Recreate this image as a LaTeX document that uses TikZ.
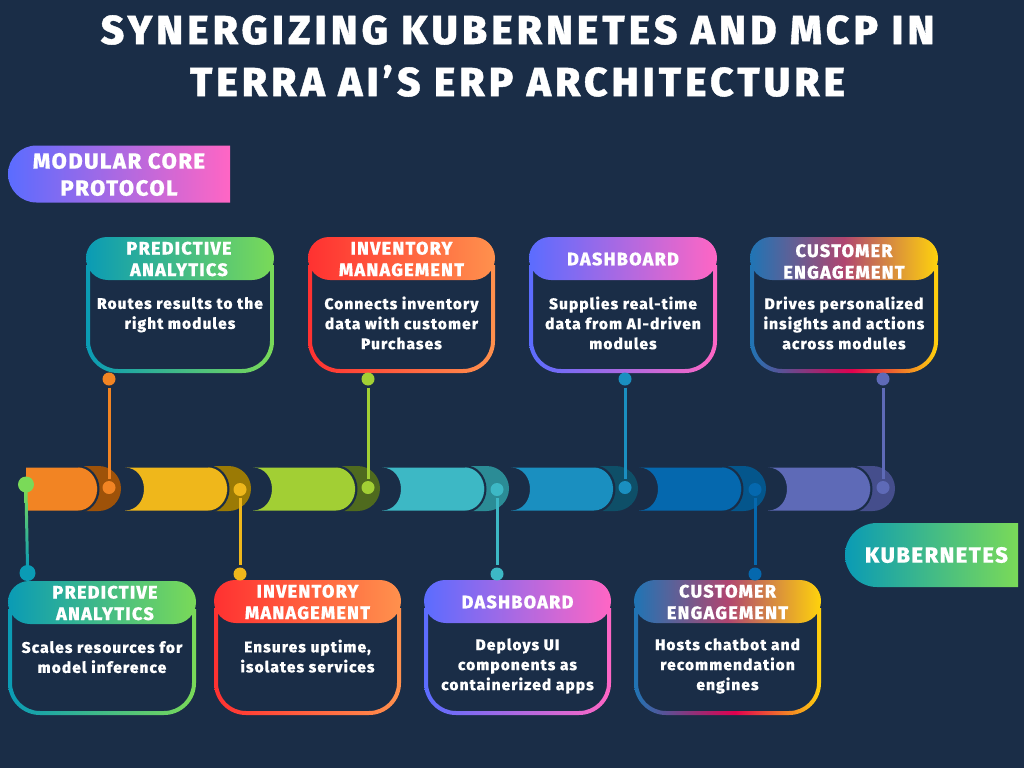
\documentclass[tikz,border=0pt]{standalone}
\usepackage{fontspec}
\setmainfont{Fira Sans}[LetterSpace=7,BoldFont={Fira Sans ExtraBold},BoldFeatures={FakeBold=0.25}]
\newfontfamily\titlefont{Fira Sans}[LetterSpace=10.5,UprightFont={* ExtraBold},FakeBold=1]
\usetikzlibrary{calc}
\definecolor{bg}{HTML}{1A2D47}
\definecolor{tA}{HTML}{0A9BB5}\definecolor{tB}{HTML}{7ADA58}
\definecolor{rA}{HTML}{FF3131}\definecolor{rB}{HTML}{FF914D}
\definecolor{bA}{HTML}{5B6CFF}\definecolor{bB}{HTML}{FF66C4}
\definecolor{cA}{HTML}{1F75B5}\definecolor{cB}{HTML}{E0004F}\definecolor{cC}{HTML}{FFD30C}\definecolor{cM}{HTML}{B04570}
\definecolor{dA}{HTML}{F28423}\definecolor{dB}{HTML}{EFB71B}\definecolor{dC}{HTML}{A2CF34}
\definecolor{dD}{HTML}{3DB8C5}\definecolor{dE}{HTML}{1A8FC0}\definecolor{dF}{HTML}{0568AE}\definecolor{dG}{HTML}{5E6AB7}
\definecolor{eA}{HTML}{9E5209}\definecolor{eB}{HTML}{9B7A05}\definecolor{eC}{HTML}{4F6A1E}
\definecolor{eD}{HTML}{2B8C96}\definecolor{eE}{HTML}{0E4F68}\definecolor{eF}{HTML}{04568C}\definecolor{eG}{HTML}{454E8C}
\pgfdeclarehorizontalshading{gradT}{100bp}{color(0bp)=(tA);color(25bp)=(tA);color(75bp)=(tB);color(100bp)=(tB)}
\pgfdeclarehorizontalshading{gradR}{100bp}{color(0bp)=(rA);color(25bp)=(rA);color(75bp)=(rB);color(100bp)=(rB)}
\pgfdeclarehorizontalshading{gradB}{100bp}{color(0bp)=(bA);color(25bp)=(bA);color(75bp)=(bB);color(100bp)=(bB)}
\pgfdeclarehorizontalshading{gradC}{100bp}{color(0bp)=(cA);color(25bp)=(cA);color(52bp)=(cB);color(75bp)=(cC);color(100bp)=(cC)}
\pgfdeclarehorizontalshading{gradTh}{100bp}{color(0bp)=(tA);color(25bp)=(tA);color(75bp)=(tB);color(100bp)=(tB)}
\pgfdeclarehorizontalshading{gradRh}{100bp}{color(0bp)=(rA);color(25bp)=(rA);color(75bp)=(rB);color(100bp)=(rB)}
\pgfdeclarehorizontalshading{gradBh}{100bp}{color(0bp)=(bA);color(25bp)=(bA);color(75bp)=(bB);color(100bp)=(bB)}
\pgfdeclarehorizontalshading{gradCh}{100bp}{color(0bp)=(cA);color(25bp)=(cA);color(50bp)=(cM);color(75bp)=(cC);color(100bp)=(cC)}
\tikzset{
  x=1pt,y=-1pt,
  head/.style={font=\bfseries\fontsize{18}{21.5}\selectfont,text=white,align=center,inner sep=0pt},
  body/.style={font=\bfseries\fontsize{15.5}{20}\selectfont,text=white,align=center,inner sep=0pt},
  dot/.style={circle,minimum size=13pt,inner sep=0pt,fill=#1},
  bigdot/.style={circle,minimum size=16pt,inner sep=0pt,fill=#1},
  link/.style={line width=3pt,draw=#1,shorten >=2pt,shorten <=2pt},
  tag/.style={font=\bfseries\fontsize{22}{27}\selectfont,text=white,align=center,inner sep=0pt},
}
% #1 left #2 right #3 header bottom #4 frame bottom #5 shading #6 name #7 head #8 body #9 head shift
\newcommand{\cardbox}[9]{%
  \shade[shading=#5,even odd rule]
    (#1,#3-15) -- (#1,#4-32) arc[start angle=180,end angle=90,radius=32] -- (#2-32,#4) arc[start angle=90,end angle=0,radius=32] -- (#2,#3-15) -- cycle
    (#1+4,#3-15) -- (#1+4,#4-32) arc[start angle=180,end angle=90,radius=28] -- (#2-32,#4-4) arc[start angle=90,end angle=0,radius=28] -- (#2-4,#3-15) -- cycle;
  \shade[shading=#5h]
    (#1,#3-22) arc[start angle=180,end angle=270,radius=21] -- ({#2-21},#3-43) arc[start angle=270,end angle=360,radius=21]
    arc[start angle=0,end angle=90,x radius=22,y radius=22] -- (#1+22,#3) arc[start angle=90,end angle=180,x radius=22,y radius=22] -- cycle;
  \node[head,#9] (#6h) at ({(#1+#2)/2},#3-21) {#7};
  \node[body] (#6b) at ({(#1+#2)/2},#3+43) {#8};
}
% #1 R body #2 R cap #3 body colour #4 cap colour
\newcommand{\barrel}[4]{%
  \fill[#4] ({#1-19},466) -- ({#2-22.5},466) arc[start angle=-90,end angle=90,radius=22.5] -- ({#1-19},511) -- cycle;
  \fill[#3] ({#1-102},467.5) -- ({#1-19},467.5) arc[start angle=-90,end angle=90,x radius=19,y radius=21.5] -- ({#1-102},510.5)
     .. controls ({#1-90},510.5) and ({#1-83},500) .. ({#1-83},489) .. controls ({#1-83},478) and ({#1-90},467.5) .. cycle;
  \draw[bg,line width=2pt] ({#1-19},466.2) arc[start angle=-90,end angle=90,x radius=20.5,y radius=22.8];
}
\begin{document}
\begin{tikzpicture}
\useasboundingbox (0,0) rectangle (1024,768);
\fill[bg] (0,0) rectangle (1024,768);
\node[font=\titlefont\fontsize{40.5}{52}\selectfont,text=white,align=center,inner sep=0pt] (title) at (517.5,56)
  {SYNERGIZING KUBERNETES AND MCP IN\\TERRA AI’S ERP ARCHITECTURE};
% tags
\shade[shading=gradB] (230,145.5) -- (36.5,145.5) arc[start angle=270,end angle=90,radius=28.5] -- (230,202.5) -- cycle;
\node[tag] (mcp) at (119,174.5) {MODULAR CORE\\PROTOCOL};
\shade[shading=gradT] (1018,523) -- (877,523) arc[start angle=270,end angle=90,radius=32] -- (1018,587) -- cycle;
\node[tag] (k8s) at (936.5,555) {KUBERNETES};
% bar
\fill[eA] (78,466) -- (98.5,466) arc[start angle=-90,end angle=90,radius=22.5] -- (78,511) -- cycle;
\fill[dA] (26,467.5) -- (78,467.5) arc[start angle=-90,end angle=90,x radius=19,y radius=21.5] -- (26,510.5) -- cycle;
\draw[bg,line width=2pt] (78,466.2) arc[start angle=-90,end angle=90,x radius=20.5,y radius=22.8];
\barrel{227}{251}{dB}{eB}
\barrel{355}{380}{dC}{eC}
\barrel{484}{509}{dD}{eD}
\barrel{613}{638}{dE}{eE}
\barrel{741}{766}{dF}{eF}
\barrel{870}{895}{dG}{eG}
% cards top
\cardbox{86}{274}{280}{373}{gradT}{pa}{PREDICTIVE\\ANALYTICS}{Routes results to the\\right modules\\\mbox{}}{xshift=-1pt}
\cardbox{308}{495}{280}{373}{gradR}{im}{INVENTORY\\MANAGEMENT}{Connects inventory\\data with customer\\Purchases}{}
\cardbox{529}{717}{280}{373}{gradB}{db}{DASHBOARD}{Supplies real-time\\data from AI-driven\\modules}{}
\cardbox{750}{938}{280}{373}{gradC}{ce}{CUSTOMER\\ENGAGEMENT}{Drives personalized\\insights and actions\\across modules}{yshift=-2.5pt}
% cards bottom
\cardbox{8}{196}{624}{715}{gradT}{pb}{PREDICTIVE\\ANALYTICS}{Scales resources for\\model inference\\\mbox{}}{xshift=3pt}
\cardbox{214}{401}{623}{715}{gradR}{ib}{INVENTORY\\MANAGEMENT}{Ensures uptime,\\isolates services\\\mbox{}}{}
\cardbox{424}{611}{623}{715}{gradB}{dd}{DASHBOARD}{Deploys UI\\components as\\containerized apps}{}
\cardbox{634}{821}{623}{715}{gradC}{cc}{CUSTOMER\\ENGAGEMENT}{Hosts chatbot and\\recommendation\\engines}{}
% dots
\node[dot=dA] (t1) at (109,379) {}; \node[dot=dA] (m1) at (109,487.5) {};
\node[dot=dC] (t2) at (368,379) {}; \node[dot=dC] (m2) at (368,487.5) {};
\node[dot=dE] (t3) at (625,379) {}; \node[dot=dE] (m3) at (625,487.5) {};
\node[dot=dG] (t4) at (883,379) {}; \node[dot=dG] (m4) at (883,487.5) {};
\node[dot=dB] (n1) at (240,574) {}; \node[dot=dB] (o1) at (240,489.5) {};
\node[dot=dD] (n2) at (497,574) {}; \node[dot=dD] (o2) at (497,489.5) {};
\node[dot=dF] (n3) at (755,574) {}; \node[dot=dF] (o3) at (755,489.5) {};
\draw[link=dA] (t1) -- (m1);
\draw[link=dC] (t2) -- (m2);
\draw[link=dE] (t3) -- (m3);
\draw[link=dG] (t4) -- (m4);
\draw[link=dB] (o1) -- (n1);
\draw[link=dD] (o2) -- (n2);
\draw[link=dF] (o3) -- (n3);
\node[bigdot=tB] (g1) at (26,484.5) {};
\node[bigdot=tA] (g2) at (27.5,573) {};
\shade[top color=tB,bottom color=tA] (24.5,490) -- (27.5,490) -- (29,567) -- (26,567) -- cycle;
\end{tikzpicture}
\end{document}
